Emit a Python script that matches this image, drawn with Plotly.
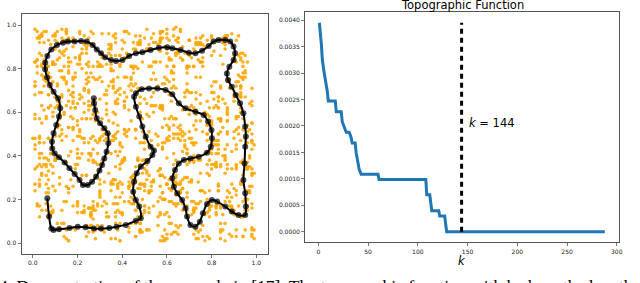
import plotly.graph_objects as go

# ---------------- data ----------------
# scattered sample points (left panel), each group "xxyy" -> (0.xx, 0.yy)
orange_groups = """
0312 8745 5619 2287 9134 4470 6652 1398 7723 3081 5946 8817 2565 4739 9902 1154 6328 3796 8041 5583
2719 6430 9865 0477 4152 7308 1936 5281 8694 3547 0723 6119 9478 2856 4305 7962 1640 8237 3591 6014
5478 1826 7093 4361 8750 2214 6587 9932 0349 3675 7128 4891 1263 8506 5017 2749 9384 6152 0891 4427
8365 3901 1742 6258 2983 9617 4430 0775 5106 7842 3359 9067 6624 1481 8213 4938 2705 7376 5550 0168
1593 7281 4846 9015 6372 0539 3108 8664 2257 5920 9483 0636 4791 7352 1869 6004 3527 8819 0982 5245
6830 2457 9312 3786 0124 5861 7695 2043 4578 1309 6751 8188 2936 5463 9620 0297 7814 3152 4089 8736
3247 9578 0681 5133 8409 1976 5224 7859 9740 4615 2182 6341 0575 8927 3496 7038 1263 5701 9855 2918
7902 4163 2538 8721 3655 6499 0817 4386 6129 9274 1847 3590 7366 0432 5788 2151 8640 6075 3314 1597
4119 0836 6970 2054 7583 3342 9726 1665 5831 0198 8406 2765 4013 9548 1279 6887 3432 0960 7685 5223
0658 5394 3407 7916 1230 8689 2541 6002 9368 4827 3574 7129 9850 1601 6336 4473 5920 2214 8147 6981
9476 1729 5863 3450 6917 0284 4138 8795 1352 5066 7691 3914 2408 8553 0725 9312 6486 4867 1039 3660
2185 6647 8324 9803 0561 4718 7956 3029 6493 2371 5048 8582 1817 4169 9634 3901 0778 7245 5592 8416
5731 3982 1206 6168 4895 9437 2613 5344 8072 7759 0926 4287 6550 3318 2041 8774 9193 1526 4809 6357
8054 2516 6749 0392 3228 7163 9481 1807 4615 6844 2370 5633 8996 0157 7402 1985 3769 9048 6224 2711
1367 7820 4093 5575 8639 2946 0174 6518 3250 9106 6487 1962 5324 7701 9855 4430 2017 5689 8343 0995
6923 4475 9158 2837 1506 6098 5762 0341 7484 3627 9213 8056 0631 2489 4946 6174 7392 3818 1460 5231
3589 0143 2776 8451 5014 3729 8327 4663 2908 1285 4652 7418 6087 9567 3136 0712 5844 2505 9871 7048
7240 8601 5417 1962 9372 4805 1653 9286 5731 8043 0329 2791 3870 5223 6698 8357 1109 6936 4185 2574
4806 5258 0935 7289 2641 1574 6398 2917 0455 4792 8166 6623 1258 4044 8513 5291 7760 0387 3022 9419
0172 3934 7681 4603 6185 8350 3047 7524 9826 2569 5713 0048 7942 6375 2289 9646 4531 1864 6697 3185
9515 7086 3364 0748 4927 2613 8592 5132 1679 6941 2056 9387 4421 1192 6650 3827 0983 8405 5216 7758
2364 1419 6027 9152 7836 5198 0469 8875 4297 3312 7568 4725 9103 3679 0814 7061 5347 2280 8934 1601
5823 8761 1549 3986 0278 9635 4780 2241 7356 0697 3815 1563 6742 8318 4456 1502 9168 6623 2475 4037
8691 4307 7803 6225 5469 0183 2314 6507 1082 8456 9634 5289 0127 7854 5990 2346 6725 3981 4738 1872
1038 6594 2267 8472 8751 3826 6153 9764 4905 2139 0486 7741 3368 9403 2737 8695 1089 5214 7603 6350
6457 2830 9412 1694 3076 7359 8638 0415 5721 4983 6845 3021 7594 2166 9372 4518 6230 0876 3196 9427
3702 9945 5136 4319 6284 1573 0841 7237 2663 6594 1227 8456 4913 0781 5608 6943 8457 3502 7924 0863
7146 0583 8795 7037 1625 5894 3709 4326 9438 1165 5793 2612 8345 6094 0431 3268 2796 9145 1350 5794
4251 5326 0679 2563 9847 6048 5976 1681 3117 8324 8402 6978 2759 4529 7185 9637 4014 1387 6869 2616
0983 3672 6348 5897 4162 2391 7524 9065 6850 3748 2168 0339 9576 1853 3946 0172 7532 8609 5015 4481
9369 1758 4805 0914 7591 8217 2082 5649 0294 7576 6930 4165 1024 5367 8263 2716 5381 4920 2648 8236
2614 8095 1537 6438 0326 3764 9135 0482 5763 2019 3456 9723 7491 8915 4809 6395 0768 7051 9122 3759
5797 4139 7262 3285 5038 0496 6417 3928 8136 6405 0674 1857 3138 2482 6027 5563 9403 1894 4285 6504
8435 6761 3909 9752 1869 4635 3851 7306 4572 1254 7215 5492 6867 0336 2594 8921 3149 6378 7556 0932
1172 2487 8046 4027 6784 7113 0369 2875 7918 9683 4827 8241 9385 7059 5340 1288 6627 2431 0813 9174
6548 9513 2184 7369 3205 1978 5734 6112 1049 5328 9068 2717 0546 4695 7915 3854 1876 5906 8362 1409
3825 0346 5691 1598 8942 5251 8086 9579 6381 0762 1394 6588 5612 3174 0768 6209 4951 9347 2608 7683
7093 7624 9327 5853 4476 2802 1623 4038 2707 4197 5731 3066 8293 9832 6149 9475 8214 0635 6039 4326
4609 3181 0748 8174 2613 6427 7958 1493 9265 8619 8486 0915 2457 1368 3580 4037 2395 7169 3794 8055
0281 5957 6553 2806 9157 3541 4396 8724 3840 2036 2152 7394 6970 5901 8823 1762 6608 4581 9277 1597
8762 2315 1875 6431 5428 9086 2640 3219 7519 5783 6047 4628 3721 2546 1093 8367 9739 2014 4836 6278
2327 8092 4518 0657 1893 4372 9217 5846 0134 9360 3579 1173 7148 6089 5460 2941 3582 7608 1315 9651
5159 4648 7216 3986 6354 0729 5792 1163 8457 2591 9831 8245 0495 3714 9807 5189 0217 4932 7651 3024
1934 0871 3487 7119 9735 6265 1038 7492 4892 6125 0284 5762 8367 9253 2516 0623 7069 8347 5189 6457
6408 6725 8069 2348 2576 1890 6981 4325 2231 0873 5913 2197 4629 1486 6271 7865 4806 1265 2743 9806
3586 1259 0733 5672 7062 8417 4165 9816 6718 3942 8540 6628 1783 5017 3936 4352 1653 5796 9367 2831
9250 5483 5645 9804 3187 5043 8326 2657 0974 7254 2697 3489 6054 8643 7438 1197 6418 3023 0592 5129
4771 3106 2392 1867 8804 2196 3750 6081 5363 4409 7428 9846 2975 0327 1685 8760 2981 9457 6428 7564
0615 9337 7918 4520 4249 7538 0597 3472 9025 1683 1062 5375 7391 4152 5024 3618 8734 6219 3876 0348
7093 7854 4267 8235 6912 3864 5843 0738 3649 8917 4386 1403 9537 7790 8362 6941 4176 2583 1249 4712
2847 6109 9362 0235 4718 7583 1096 5820 8341 3674 6027 0958 3491 9136 5762 2408 7215 1853 4689 0572
5930 1476 7214 8693 0357 3921 6685 2149 9506 4738 1263 7850 5027 3382 8914 6471 0639 9295 2186 7713
8216 4580 0793 3348 6921 1067 9452 7316 2678 5803 4139 9724 7361 1596 3048 8235 5897 2960 6422 1184
1475 7938 5026 6184 2863 8592 3370 0441 6915 1257 8756 3412 0584 6729 9371 4150 2608 8036 3765 9847
4652 2317 8871 1906 9534 4276 0618 8759 3082 9431 2570 6193 9818 4864 1207 7592 6381 0495 5138 3629
7081 9843 3157 5429 1670 6305 4893 2064 7246 6318 5902 1589 3735 8217 6592 0346 9124 4681 7850 2403
0394 5762 6489 9051 5206 2738 8145 6487 1519 0982 9376 4825 6147 2490 4835 5973 1768 7204 0317 8566
3528 1095 9906 4673 7847 0159 2561 9834 5793 3647 0218 7346 2473 5801 8169 3027 4652 1379 6941 4285
6719 8436 2360 7215 0183 5496 7028 3712 8350 6096 3649 1153 8594 9328 0536 6784 7931 5862 2478 0841
9863 3971 5734 1488 4592 8247 1376 5149 0627 2815 6980 5714 1038 0762 7281 1459 3806 9143 5094 7302
1206 6654 8017 3742 6930 1865 4481 0576 3968 8274 4523 2608 9362 4197 5823 8916 6279 0435 8756 3718
4589 2018 0481 9367 2715 4603 9654 7893 6204 4531 7814 9172 3695 6450 1347 2781 0148 6527 3361 8094
7832 7405 3629 5106 8471 7238 2039 4418 9586 1067 0395 6847 5726 8903 4192 5034 9487 3866 1625 4957
0145 4860 6973 2581 5046 3792 6715 1257 2431 7318 8162 3524 2049 1678 7506 9615 4023 7912 6790 2248
3671 9183 9258 8034 1392 9520 5164 8632 5873 3945 2759 0463 6381 7219 9624 6157 1852 4328 9013 5583
""".split()
orange_x = [int(g[:2]) / 100 for g in orange_groups]
orange_y = [int(g[2:]) / 100 for g in orange_groups]

# nodes of the curve (left panel)
path_x = [0.065,0.073,0.083,0.093,0.117,0.164,0.201,0.236,0.273,0.305,
          0.342,0.375,0.416,0.461,0.483,0.476,0.461,0.449,0.453,0.465,
          0.483,0.513,0.535,0.542,0.527,0.505,0.490,0.476,0.461,0.453,
          0.461,0.487,0.520,0.557,0.594,0.624,0.653,0.683,0.727,0.764,
          0.784,0.799,0.801,0.796,0.779,0.742,0.705,0.676,0.653,0.636,
          0.624,0.631,0.646,0.668,0.683,0.690,0.705,0.727,0.747,0.761,
          0.779,0.801,0.824,0.861,0.890,0.920,0.950,0.953,0.950,0.942,
          0.947,0.950,0.953,0.950,0.942,0.927,0.908,0.890,0.873,0.868,
          0.879,0.898,0.905,0.898,0.883,0.861,0.831,0.809,0.787,0.757,
          0.727,0.698,0.661,0.624,0.601,0.564,0.527,0.490,0.461,0.431,
          0.401,0.372,0.350,0.324,0.305,0.286,0.268,0.241,0.216,0.187,
          0.157,0.135,0.108,0.083,0.065,0.056,0.055,0.064,0.076,0.093,
          0.113,0.123,0.117,0.105,0.093,0.086,0.087,0.098,0.117,0.142,
          0.164,0.187,0.209,0.224,0.246,0.265,0.283,0.298,0.310,0.320,
          0.330,0.338,0.335,0.320,0.301,0.286,0.279,0.274,0.273]
path_y = [0.205,0.121,0.067,0.060,0.063,0.069,0.075,0.072,0.067,0.066,
          0.069,0.075,0.083,0.102,0.113,0.167,0.197,0.235,0.281,0.320,
          0.350,0.376,0.404,0.424,0.442,0.488,0.534,0.580,0.625,0.671,
          0.687,0.705,0.709,0.709,0.702,0.682,0.641,0.618,0.602,0.587,
          0.557,0.518,0.480,0.442,0.414,0.396,0.388,0.381,0.365,0.335,
          0.297,0.258,0.228,0.197,0.159,0.121,0.083,0.075,0.098,0.136,
          0.179,0.197,0.190,0.167,0.144,0.128,0.128,0.167,0.228,0.289,
          0.365,0.442,0.488,0.534,0.595,0.641,0.679,0.717,0.748,0.778,
          0.809,0.839,0.870,0.901,0.924,0.931,0.931,0.924,0.904,0.882,
          0.870,0.873,0.885,0.893,0.898,0.896,0.885,0.875,0.870,0.858,
          0.839,0.835,0.839,0.852,0.870,0.888,0.908,0.924,0.927,0.924,
          0.924,0.919,0.908,0.888,0.858,0.827,0.797,0.760,0.725,0.694,
          0.664,0.618,0.580,0.541,0.503,0.465,0.434,0.411,0.393,0.369,
          0.343,0.317,0.289,0.266,0.266,0.281,0.304,0.332,0.358,0.388,
          0.419,0.457,0.503,0.526,0.549,0.572,0.610,0.641,0.664]

# topographic function (right panel)
topo_k = [1, 2, 3, 4, 5, 6, 7, 8, 9, 10, 17, 18, 23, 24, 26, 28, 31, 33, 34, 37,
          38, 40, 41, 43, 60, 61, 108, 109, 112, 114, 121, 122, 127, 129, 288]
topo_val = [0.00395, 0.00380, 0.00355, 0.00325, 0.00308, 0.00298, 0.00288, 0.00278,
            0.00265, 0.00247, 0.00247, 0.00227, 0.00227, 0.00208, 0.00198, 0.00188,
            0.00188, 0.00178, 0.00168, 0.00168, 0.00150, 0.00125, 0.00118, 0.00109,
            0.00109, 0.00099, 0.00099, 0.00070, 0.00070, 0.00040, 0.00040, 0.00030,
            0.00030, 0.0, 0.0]
k_star = 144
k_star_label = "<i>k</i> = 144"

left_ticks = [0.0, 0.2, 0.4, 0.6, 0.8, 1.0]
right_xticks = [0, 50, 100, 150, 200, 250, 300]
right_yticks = [0.0, 0.0005, 0.0010, 0.0015, 0.0020, 0.0025, 0.0030, 0.0035, 0.0040]

title_text = "Topographic Function"
xlabel_text = "<i>k</i>"
caption_text = "4. Demonstration of the example in [17]. The topographic function with k along the length"

# ---------------- figure ----------------
W, H = 640, 283
FONT = "DejaVu Sans"
AX = "#555555"

fig = go.Figure()

fig.add_trace(go.Scatter(
    x=orange_x, y=orange_y, mode="markers",
    marker=dict(color="#FFA500", size=3.6, opacity=0.85, line=dict(width=0)),
    xaxis="x", yaxis="y", hoverinfo="skip", showlegend=False))

fig.add_trace(go.Scatter(
    x=path_x, y=path_y, mode="lines+markers",
    line=dict(color="black", width=2, shape="spline", smoothing=0.8),
    marker=dict(color="rgba(0,0,0,0.7)", size=6),
    xaxis="x", yaxis="y", hoverinfo="skip", showlegend=False))

fig.add_trace(go.Scatter(
    x=topo_k, y=topo_val, mode="lines",
    line=dict(color="#1f77b4", width=3),
    xaxis="x2", yaxis="y2", hoverinfo="skip", showlegend=False))

fig.add_trace(go.Scatter(
    x=[k_star, k_star], y=[0, max(topo_val)], mode="lines",
    line=dict(color="black", width=3, dash="5px,4px"),
    xaxis="x2", yaxis="y2", hoverinfo="skip", showlegend=False))

common = dict(showline=True, mirror=True, linecolor=AX, linewidth=1,
              ticks="outside", ticklen=3, tickwidth=0.8, tickcolor=AX,
              showgrid=False, zeroline=False,
              tickfont=dict(family=FONT, size=6, color="#222222"))

fig.update_layout(
    width=W, height=H,
    margin=dict(l=0, r=0, t=0, b=0, pad=0),
    paper_bgcolor="white", plot_bgcolor="white",
    hovermode=False,
    xaxis=dict(domain=[21.75 / W, 269.25 / W], range=[-0.05, 1.05], anchor="y",
               tickvals=left_ticks, tickformat=".1f", **common),
    yaxis=dict(domain=[1 - 253.9 / H, 1 - 14.1 / H], range=[-0.05, 1.05], anchor="x",
               tickvals=left_ticks, tickformat=".1f", **common),
    xaxis2=dict(domain=[307 / W, 623 / W], range=[-13.35, 302.35], anchor="y2",
                tickvals=right_xticks, **common),
    yaxis2=dict(domain=[1 - 242.3 / H, 1 - 12.3 / H], range=[-0.0001975, 0.0041475],
                anchor="x2", tickvals=right_yticks, tickformat=".4f", **common),
    annotations=[
        dict(text=title_text, xref="x2 domain", yref="paper", x=0.5, y=1 - 4.5 / H,
             xanchor="center", yanchor="middle", showarrow=False,
             font=dict(family=FONT, size=11.5, color="black")),
        dict(text=xlabel_text, xref="x2 domain", yref="paper", x=0.5, y=1 - 261 / H,
             xanchor="center", yanchor="middle", showarrow=False,
             font=dict(family=FONT, size=11.5, color="black")),
        dict(text=k_star_label, xref="x2", yref="y2", x=k_star + 5, y=0.00205,
             xanchor="left", yanchor="middle", showarrow=False,
             font=dict(family=FONT, size=11.5, color="black")),
        dict(text=caption_text, xref="paper", yref="paper", x=-0.004, y=1 - 274 / H,
             xanchor="left", yanchor="top", showarrow=False,
             font=dict(family="Liberation Serif", size=17.5, color="black")),
    ],
)

fig.write_html("out.html",
               config={"displayModeBar": False, "staticPlot": True},
               post_script="document.body.style.margin='0px';document.body.style.padding='0px';")
